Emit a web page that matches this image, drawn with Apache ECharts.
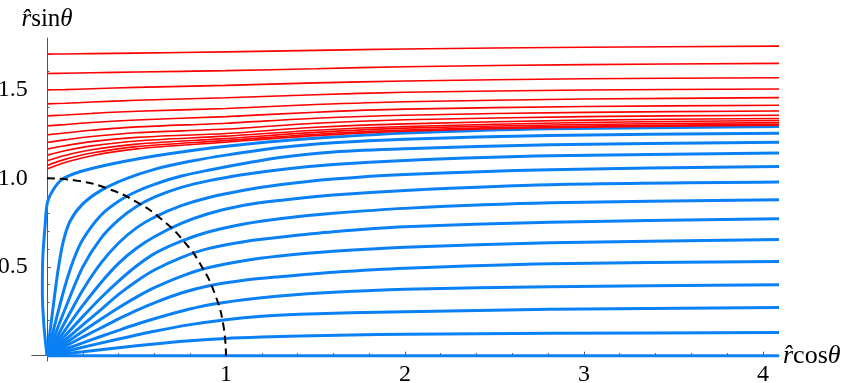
<!DOCTYPE html>
<html><head><meta charset="utf-8">
<script src="https://cdn.jsdelivr.net/npm/echarts@6/dist/echarts.min.js"></script>
<style>html,body{margin:0;padding:0;background:#fff}#c{width:847px;height:383px}</style>
</head><body><div id="c"></div>
<script>
// Tick values
const xMajorTicks = [1, 2, 3, 4];
const xMinorTicks = [0.2,0.4,0.6,0.8,1.2,1.4,1.6,1.8,2.2,2.4,2.6,2.8,3.2,3.4,3.6,3.8];
const yMajorTicks = [0.5, 1.0, 1.5];
const yMinorTicks = [0.1,0.2,0.3,0.4,0.6,0.7,0.8,0.9,1.1,1.2,1.3,1.4,1.6,1.7];

// Blue curves (lines leaving the origin), [x, y]
const blue0  = [[0,0],[4.09,0]];
const blue1  = [[0,0],[0.2,0.0224],[0.4,0.0448],[0.6,0.066],[0.8,0.084],[1.0,0.097],[1.2,0.105],[1.41,0.111],[1.7,0.117],[2,0.121],[2.81,0.126],[4.09,0.130]];
const blue2  = [[0,0],[0.2,0.047],[0.4,0.094],[0.6,0.138],[0.8,0.175],[1.0,0.203],[1.2,0.222],[1.41,0.233],[1.7,0.242],[2,0.248],[2.81,0.261],[4.09,0.271]];
const blue3  = [[0,0],[0.1,0.036],[0.2,0.072],[0.3,0.108],[0.4,0.143],[0.5,0.177],[0.6,0.208],[0.75,0.25],[0.9,0.285],[1.1,0.315],[1.3,0.336],[1.6,0.357],[2,0.374],[2.81,0.389],[4.09,0.400]];
const blue4  = [[0,0],[0.1,0.052],[0.2,0.105],[0.3,0.156],[0.4,0.207],[0.5,0.255],[0.6,0.298],[0.75,0.353],[0.9,0.393],[1.1,0.425],[1.3,0.445],[1.6,0.47],[2,0.493],[2.81,0.518],[4.09,0.531]];
const blue5  = [[0,0],[0.1,0.069],[0.2,0.137],[0.3,0.205],[0.4,0.27],[0.5,0.33],[0.6,0.383],[0.75,0.447],[0.9,0.495],[1.1,0.535],[1.3,0.561],[1.6,0.588],[2,0.611],[2.81,0.636],[4.09,0.654]];
const blue6  = [[0,0],[0.1,0.087],[0.2,0.173],[0.3,0.258],[0.4,0.345],[0.5,0.42],[0.6,0.483],[0.75,0.553],[0.9,0.603],[1.1,0.642],[1.3,0.667],[1.6,0.698],[2,0.726],[2.81,0.752],[4.09,0.771]];
const blue7  = [[0,0],[0.1,0.111],[0.2,0.22],[0.3,0.325],[0.4,0.42],[0.5,0.505],[0.6,0.575],[0.75,0.645],[0.9,0.697],[1.1,0.742],[1.3,0.772],[1.6,0.802],[2,0.830],[2.81,0.861],[4.09,0.879]];
const blue8  = [[0,0],[0.1,0.143],[0.2,0.283],[0.3,0.41],[0.4,0.52],[0.5,0.605],[0.6,0.67],[0.75,0.745],[0.9,0.8],[1.1,0.848],[1.3,0.875],[1.6,0.905],[2,0.931],[2.81,0.963],[4.09,0.978]];
const blue9  = [[0,0],[0.1,0.188],[0.2,0.37],[0.3,0.52],[0.4,0.635],[0.5,0.72],[0.6,0.78],[0.75,0.845],[0.9,0.89],[1.1,0.932],[1.3,0.963],[1.6,0.995],[2,1.021],[2.81,1.048],[4.09,1.066]];
const blue10 = [[0,0],[0.1,0.26],[0.2,0.5],[0.3,0.66],[0.4,0.765],[0.5,0.84],[0.6,0.893],[0.75,0.948],[0.9,0.985],[1.1,1.021],[1.3,1.048],[1.6,1.077],[2,1.100],[2.81,1.126],[4.09,1.142]];
const blue11 = [[0,0],[0.05,0.2],[0.1,0.39],[0.15,0.545],[0.2,0.655],[0.3,0.79],[0.4,0.87],[0.5,0.925],[0.6,0.965],[0.75,1.012],[0.9,1.045],[1.1,1.083],[1.3,1.117],[1.6,1.148],[2,1.166],[2.81,1.188],[4.09,1.203]];
const blue12 = [[0,0],[0.03,0.24],[0.06,0.47],[0.09,0.64],[0.13,0.76],[0.2,0.855],[0.3,0.93],[0.436,0.995],[0.6,1.05],[0.8,1.095],[1.0,1.13],[1.3,1.173],[1.6,1.2],[2,1.22],[2.81,1.24],[4.09,1.254]];
const blue13 = [[0,0],[-0.017,0.167],[-0.026,0.357],[-0.024,0.542],[-0.011,0.729],[0.002,0.862],[0.035,0.935],[0.082,0.992],[0.15,1.025],[0.25,1.055],[0.436,1.095],[0.6,1.125],[0.8,1.155],[1.0,1.18],[1.3,1.21],[1.6,1.232],[2,1.254],[2.81,1.278],[4.09,1.291]];

// Red curves (lines that do not reach the origin), heights at redX
const redX = [0, 0.1, 0.25, 0.5, 1, 1.5, 2, 3, 4.09];
const red1  = [1.699,1.700,1.702,1.705,1.712,1.720,1.728,1.738,1.744];
const red2  = [1.590,1.591,1.594,1.598,1.606,1.617,1.628,1.640,1.647];
const red3  = [1.497,1.499,1.504,1.512,1.523,1.537,1.548,1.560,1.566];
const red4  = [1.419,1.422,1.429,1.439,1.453,1.470,1.484,1.497,1.503];
const red5  = [1.351,1.356,1.365,1.377,1.393,1.415,1.431,1.446,1.454];
const red6  = [1.295,1.302,1.314,1.328,1.347,1.372,1.389,1.404,1.411];
const red7  = [1.244,1.255,1.270,1.289,1.310,1.338,1.355,1.371,1.379];
const red8  = [1.201,1.216,1.235,1.256,1.277,1.310,1.329,1.347,1.355];
const red9  = [1.164,1.183,1.206,1.230,1.252,1.287,1.306,1.327,1.336];
const red10 = [1.130,1.155,1.182,1.210,1.237,1.270,1.291,1.314,1.325];
const red11 = [1.098,1.128,1.160,1.192,1.223,1.258,1.282,1.303,1.313];
const red12 = [1.072,1.106,1.142,1.178,1.212,1.248,1.272,1.294,1.304];
const red13 = [1.052,1.088,1.127,1.165,1.203,1.240,1.265,1.288,1.298];

// Dashed unit quarter circle (r = 1)
const circle = [[0,1],[0.174,0.985],[0.342,0.940],[0.5,0.866],[0.643,0.766],[0.766,0.643],[0.866,0.5],[0.940,0.342],[0.985,0.174],[1,0]];

const blueCurves = [blue0,blue1,blue2,blue3,blue4,blue5,blue6,blue7,blue8,blue9,blue10,blue11,blue12,blue13];
const redCurves = [red1,red2,red3,red4,red5,red6,red7,red8,red9,red10,red11,red12,red13];

const BLUE = '#0a80f5', RED = '#ff0000', AX = '#555';
const FONT = 'Liberation Serif';

const series = [];
blueCurves.forEach(c => series.push({type:'line', data:c, showSymbol:false, smooth:0.3, silent:true,
  lineStyle:{color:BLUE, width:3}, z:2}));
redCurves.forEach(ys => series.push({type:'line', data:ys.map((y,i)=>[redX[i], y]), showSymbol:false, smooth:0.3, silent:true,
  lineStyle:{color:RED, width:1.6}, z:3}));
series.push({type:'line', data:circle, showSymbol:false, smooth:0.5, silent:true,
  lineStyle:{color:'#000', width:2, type:[8,5]}, z:4});

const nameRich = (fs) => ({
  i:{fontFamily:FONT, fontStyle:'italic', fontSize:fs, color:'#000'},
  n:{fontFamily:FONT, fontSize:fs, color:'#000'}
});

const chart = echarts.init(document.getElementById('c'), null, {renderer:'canvas'});
chart.setOption({
  animation:false,
  backgroundColor:'#fff',
  grid:{left:31.8, right:68, top:38, bottom:22, containLabel:false, outerBoundsMode:'none'},
  xAxis:[
    {type:'value', min:-0.085, max:4.09, position:'bottom',
     axisLine:{onZero:true, lineStyle:{color:AX, width:1}},
     axisTick:{show:true, inside:true, length:4, customValues:xMajorTicks, lineStyle:{color:AX}},
     axisLabel:{customValues:xMajorTicks, fontFamily:FONT, fontSize:24, color:'#000', margin:2},
     splitLine:{show:false},
     name:'{i|r̂}{n|cos}{i|θ}', nameLocation:'end', nameGap:4,
     nameTextStyle:{rich:nameRich(26), verticalAlign:'middle'}},
    {type:'value', min:-0.085, max:4.09, position:'bottom',
     axisLine:{show:false, onZero:true},
     axisTick:{show:true, inside:true, length:2.5, customValues:xMinorTicks, lineStyle:{color:AX}},
     axisLabel:{show:false}, splitLine:{show:false}}
  ],
  yAxis:[
    {type:'value', min:-0.03, max:1.79, position:'left',
     axisLine:{onZero:true, lineStyle:{color:AX, width:1}},
     axisTick:{show:true, inside:true, length:4, customValues:yMajorTicks, lineStyle:{color:AX}},
     axisLabel:{customValues:yMajorTicks, formatter:v=>Number(v).toFixed(1), fontFamily:FONT, fontSize:24, color:'#000', margin:4},
     splitLine:{show:false},
     name:'{i|r̂}{n|sin}{i|θ}', nameLocation:'end', nameGap:6,
     nameTextStyle:{rich:nameRich(25)}},
    {type:'value', min:-0.03, max:1.79, position:'left',
     axisLine:{show:false, onZero:true},
     axisTick:{show:true, inside:true, length:2.5, customValues:yMinorTicks, lineStyle:{color:AX}},
     axisLabel:{show:false}, splitLine:{show:false}}
  ],
  series: series
});
</script>
</body></html>
